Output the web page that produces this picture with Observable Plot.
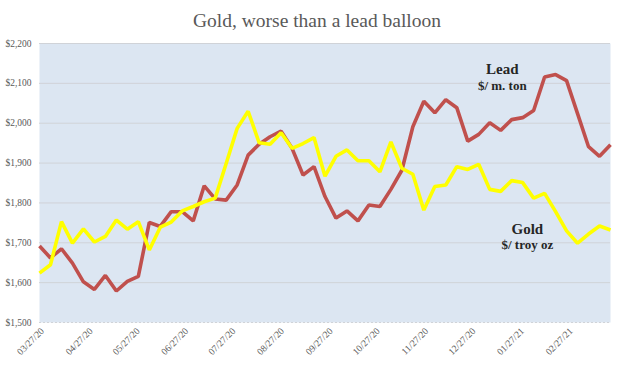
<!DOCTYPE html>
<html>
<head>
<meta charset="utf-8">
<script src="https://cdn.jsdelivr.net/npm/d3@7"></script>
<script src="https://cdn.jsdelivr.net/npm/@observablehq/plot@0.6"></script>
<style>
  body { margin: 0; background: #fff; }
  #title { height: 36px; box-sizing: border-box; padding-top: 11px; text-align: center;
           font-family: "Liberation Serif", serif; font-size: 19.5px; color: #595959; line-height: 20px;
           width: 620px; padding-left: 14px; }
</style>
</head>
<body>
<div id="title">Gold, worse than a lead balloon</div>
<div id="chart"></div>
<script>
const startDate = "2020-03-27";
const lead = [1692,1662,1685,1649,1602,1583,1618,1579,1603,1616,1751,1741,1778,1778,1755,1843,1810,1807,1845,1920,1947,1966,1980,1937,1870,1891,1816,1762,1780,1755,1795,1791,1834,1882,1991,2055,2026,2059,2039,1955,1972,2001,1982,2009,2014,2032,2116,2122,2107,2024,1941,1917,1946];
const gold = [1624,1645,1753,1699,1735,1702,1716,1757,1734,1753,1682,1739,1752,1780,1791,1803,1812,1899,1987,2030,1951,1947,1976,1937,1949,1964,1867,1917,1933,1906,1906,1878,1953,1887,1872,1782,1841,1845,1891,1884,1897,1834,1829,1856,1851,1812,1824,1778,1730,1699,1722,1742,1732];
const tickLabels = ["03/27/20","04/27/20","05/27/20","06/27/20","07/27/20","08/27/20","09/27/20","10/27/20","11/27/20","12/27/20","01/27/21","02/27/21"];
const yTicks = [1500,1600,1700,1800,1900,2000,2100,2200];
const seriesNames = ["Lead","Gold"];
const seriesColors = ["#C0504D","#FFFF00"];
const labels = [
  {text:"Lead", sub:"$/ m. ton", date:"2021-01-16", value:2135, subValue:2094},
  {text:"Gold", sub:"$/ troy oz", date:"2021-02-01", value:1735, subValue:1694}
];

const parse = d3.utcParse("%Y-%m-%d");
const t0 = parse(startDate);
const weekDates = lead.map((_, i) => d3.utcDay.offset(t0, i * 7));
const rows = [];
lead.forEach((v, i) => rows.push({series: "Lead", date: weekDates[i], value: v}));
gold.forEach((v, i) => rows.push({series: "Gold", date: weekDates[i], value: v}));
const tickDates = tickLabels.map(d3.utcParse("%m/%d/%y"));
const labelRows = labels.map(l => ({...l, d: parse(l.date)}));

const fmt = d => "$" + d3.format(",")(d);

const chart = Plot.plot({
  width: 620,
  height: 336,
  marginTop: 7,
  marginBottom: 50,
  marginLeft: 39,
  marginRight: 10,
  style: {fontFamily: "Liberation Serif, serif", background: "white"},
  x: {type: "utc", domain: [weekDates[0], weekDates[weekDates.length - 1]]},
  y: {domain: [1500, 2200]},
  color: {domain: seriesNames, range: seriesColors},
  marks: [
    Plot.frame({fill: "#DCE6F2", stroke: null}),
    Plot.ruleY(yTicks.slice(1), {stroke: "#D0D3D8", strokeWidth: 1}),
    Plot.ruleY([1500], {stroke: "#D0D3D8", strokeWidth: 1, strokeDasharray: "2,2"}),
    Plot.axisY({ticks: yTicks, tickFormat: fmt, tickSize: 0, tickPadding: 8, fontSize: 9.5, fill: "#595959", label: null}),
    Plot.axisX({ticks: tickDates, tickFormat: d3.utcFormat("%m/%d/%y"), tickSize: 0, tickPadding: 7, tickRotate: -45, fontSize: 9.5, fill: "#595959", label: null, dx: 3}),
    Plot.line(rows, {x: "date", y: "value", z: "series", stroke: "series", strokeWidth: 3.6, strokeLinejoin: "miter", strokeLinecap: "butt"}),
    Plot.text(labelRows, {x: "d", y: "value", text: "text", fontSize: 15, fontWeight: "bold", fill: "#262626", lineAnchor: "middle"}),
    Plot.text(labelRows, {x: "d", y: "subValue", text: "sub", fontSize: 13, fontWeight: "bold", fill: "#262626", lineAnchor: "middle"})
  ]
});
document.getElementById("chart").appendChild(chart);
</script>
</body>
</html>
